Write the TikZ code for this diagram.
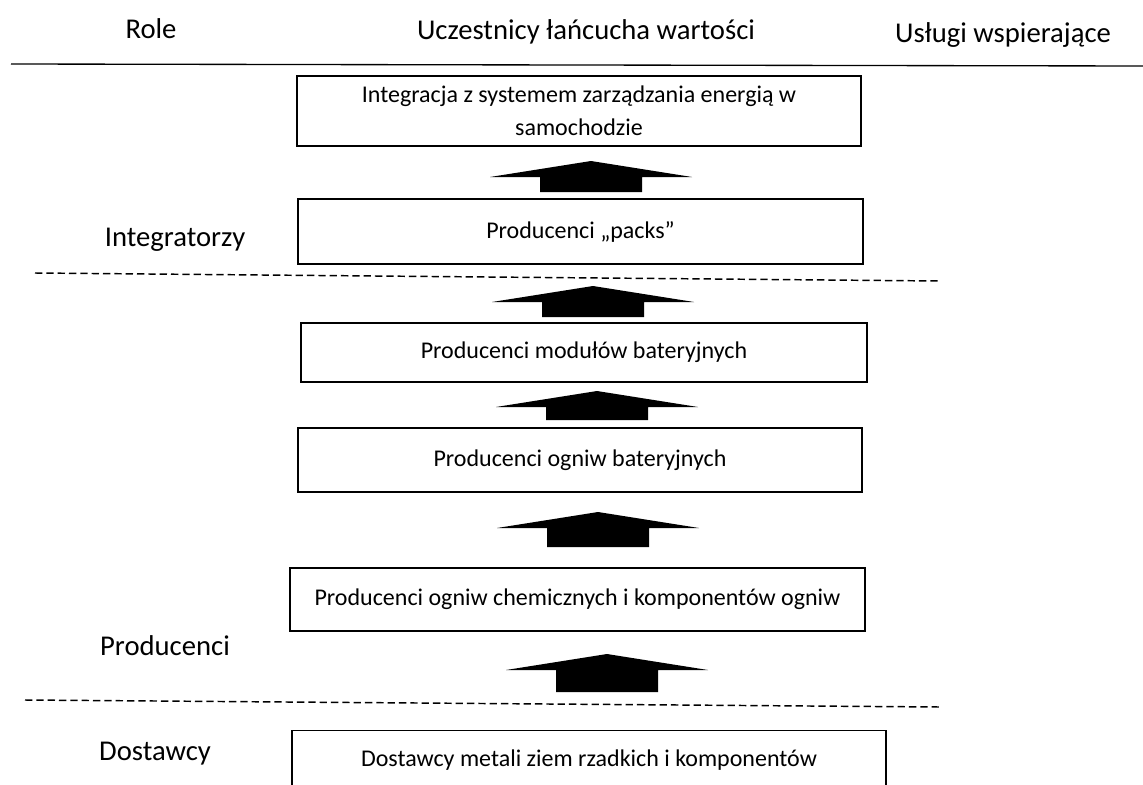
\documentclass[tikz,border=0pt]{standalone}
\usepackage{fontspec}
\setmainfont{Carlito}
\tikzset{
  chainpic/.style={x=0.75pt,y=-0.75pt},
  stagebox/.style={draw,line width=1pt,inner sep=0pt,align=center,font=\fontsize{18}{24.5}\selectfont},
  rolelabel/.style={anchor=base,font=\fontsize{21.5}{26}\selectfont},
  divider/.style={line width=1.1pt,dash pattern=on 5.5pt off 3pt},
}
\begin{document}
\begin{tikzpicture}[chainpic]
  \useasboundingbox (0,0) rectangle (1143,785);
  % header row
  \node[rolelabel] (hrole)  at (151,38)  {Role};
  \node[rolelabel] (hchain) at (586,39)  {Uczestnicy łańcucha wartości};
  \node[rolelabel] (hserv)  at (1003,42) {Usługi wspierające};
  \draw[line width=1pt] (11,64) -- (1143,66);
  % value chain stages
  \node[stagebox,minimum width=423pt,minimum height=52.5pt] (integ) at (579,111)
    {Integracja z systemem zarządzania energią w\\samochodzie};
  \node[stagebox,minimum width=423.75pt,minimum height=48.75pt] (packs) at (580.5,231.5)
    {Producenci „packs”};
  \node[stagebox,minimum width=424.5pt,minimum height=44.25pt] (modules) at (584,352.5)
    {Producenci modułów bateryjnych};
  \node[stagebox,minimum width=423pt,minimum height=48pt] (cells) at (580,460)
    {Producenci ogniw bateryjnych};
  \node[stagebox,minimum width=431.25pt,minimum height=47.25pt] (chem) at (577.5,599.5)
    {Producenci ogniw chemicznych i komponentów ogniw};
  \node[stagebox,minimum width=445.5pt,minimum height=43.5pt,anchor=north] (metals) at (589,730)
    {Dostawcy metali ziem rzadkich i komponentów};
  % block arrows
  \foreach \ax/\ay/\by in {591/161/192, 593/286/317, 597/391/420, 598/512/547, 607/654/692}
    \fill ({\ax-101},{\ay+16}) -- (\ax,\ay) -- ({\ax+101},{\ay+16}) -- ({\ax+51},{\ay+16})
      -- ({\ax+51},\by) -- ({\ax-51},\by) -- ({\ax-51},{\ay+16}) -- cycle;
  % roles
  \node[rolelabel] (rinteg) at (175,246) {Integratorzy};
  \node[rolelabel] (rprod)  at (165,655) {Producenci};
  \node[rolelabel] (rsupp)  at (155,760) {Dostawcy};
  \draw[divider] (35,273) -- (940,281);
  \draw[divider] (25,700) -- (940,707);
\end{tikzpicture}
\end{document}
